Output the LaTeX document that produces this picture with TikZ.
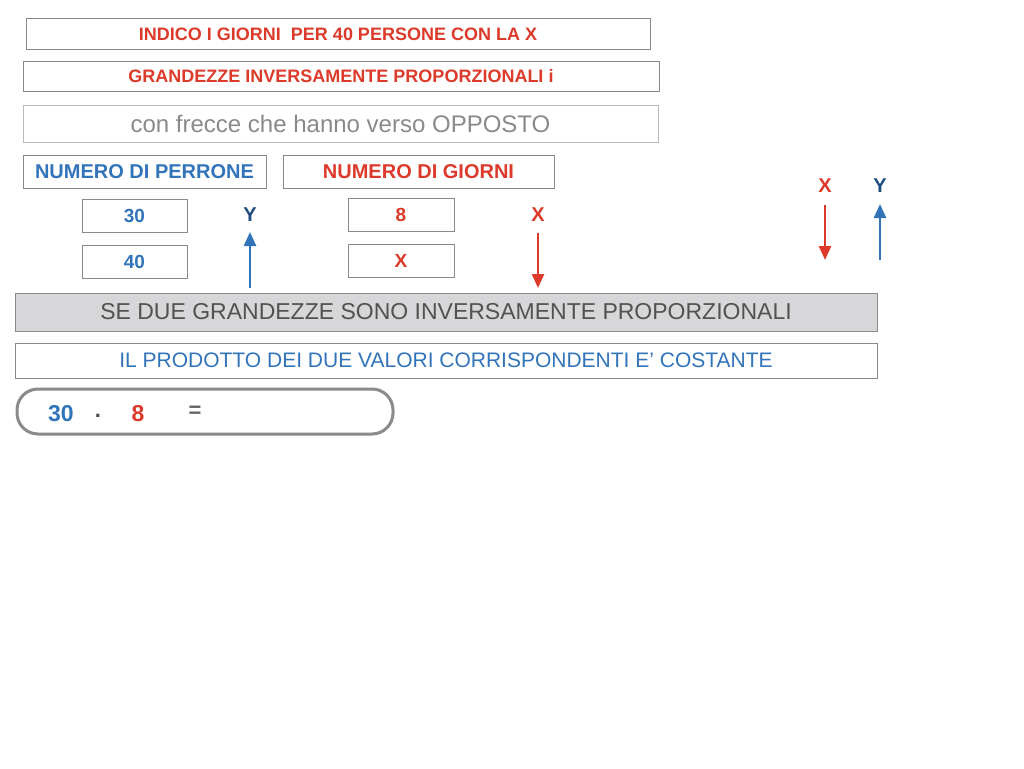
\documentclass[tikz,border=0pt]{standalone}
\usepackage{fontspec}
\setmainfont{Liberation Sans}
\usetikzlibrary{arrows.meta,positioning}
\definecolor{txtred}{HTML}{DC3A2A}
\definecolor{txtblue}{HTML}{3274BA}
\definecolor{darkblue}{HTML}{1F4C7E}
\definecolor{boxgray}{HTML}{8A8A8A}
\definecolor{fillgray}{HTML}{D7D6D8}

\begin{document}
\begin{tikzpicture}[x=1pt, y=-1pt]
    % Define block styles
    \tikzstyle{block} = [rectangle, draw=boxgray, line width=1pt, fill=white, inner sep=0pt]
    \tikzstyle{label} = [inner sep=0pt, font=\bfseries\fontsize{20}{20}\selectfont]
    \tikzstyle{line} = [line width=2.5pt, -{Triangle[length=14pt,width=12pt]}]

    \useasboundingbox (0,0) rectangle (1024,768);

    % Title boxes
    \node [block, minimum width=624pt, minimum height=31pt, text=txtred, font=\bfseries\fontsize{18}{18}\selectfont] (Title) at (338,34.5) {INDICO I GIORNI\ \ PER 40 PERSONE CON LA X};
    \node [block, minimum width=636pt, minimum height=30pt, text=txtred, font=\bfseries\fontsize{18}{18}\selectfont] (Kind) at (341,76.5) {GRANDEZZE INVERSAMENTE PROPORZIONALI i};
    \node [block, draw=boxgray!60, minimum width=635pt, minimum height=37pt, text=boxgray, font=\fontsize{24}{24}\selectfont] (Rule) at (340.5,123.5) {con frecce che hanno verso OPPOSTO};

    % Column headers
    \node [block, minimum width=243pt, minimum height=33pt, text=txtblue, font=\bfseries\fontsize{20}{20}\selectfont] (People) at (144.5,171.5) {NUMERO DI PERRONE};
    \node [block, minimum width=271pt, minimum height=33pt, text=txtred, font=\bfseries\fontsize{20}{20}\selectfont] (Days) at (418.5,171.5) {NUMERO DI GIORNI};

    % Values
    \node [block, minimum width=105pt, minimum height=33pt, text=txtblue, font=\bfseries\fontsize{19}{19}\selectfont] (P_30) at (134.5,216) {30};
    \node [block, minimum width=105pt, minimum height=33pt, text=txtblue, font=\bfseries\fontsize{19}{19}\selectfont] (P_40) at (134.5,262) {40};
    \node [block, minimum width=106pt, minimum height=33pt, text=txtred, font=\bfseries\fontsize{19}{19}\selectfont] (D_8) at (401,215) {8};
    \node [block, minimum width=106pt, minimum height=33pt, text=txtred, font=\bfseries\fontsize{19}{19}\selectfont] (D_X) at (401,261) {X};

    % Arrow labels
    \node [label, text=darkblue] (Y_left) at (250,214.5) {Y};
    \node [label, text=txtred] (X_left) at (538,214.5) {X};
    \node [label, text=txtred] (X_right) at (825,185.5) {X};
    \node [label, text=darkblue] (Y_right) at (880,185.5) {Y};

    \coordinate (Y_left_a) at (250,288);
    \coordinate (Y_left_b) at (250,232);
    \coordinate (X_left_a) at (538,233);
    \coordinate (X_left_b) at (538,288);
    \coordinate (X_right_a) at (825,205);
    \coordinate (X_right_b) at (825,260);
    \coordinate (Y_right_a) at (880,260);
    \coordinate (Y_right_b) at (880,204);

    % Arrows
    \path [line, draw=txtblue] (Y_left_a) -- (Y_left_b);
    \path [line, draw=txtred] (X_left_a) -- (X_left_b);
    \path [line, draw=txtred] (X_right_a) -- (X_right_b);
    \path [line, draw=txtblue] (Y_right_a) -- (Y_right_b);

    % Property boxes
    \node [block, fill=fillgray, minimum width=862pt, minimum height=38pt, text=black!68, font=\fontsize{23}{23}\selectfont] (Property) at (446,312) {SE DUE GRANDEZZE SONO INVERSAMENTE PROPORZIONALI};
    \node [block, minimum width=862pt, minimum height=35pt, text=txtblue, font=\fontsize{21}{21}\selectfont] (Product) at (446,360.5) {IL PRODOTTO DEI DUE VALORI CORRISPONDENTI E’ COSTANTE};

    % Product line
    \node [block, draw=boxgray, line width=3pt, rounded corners=21pt, minimum width=376pt, minimum height=45pt] (Calc) at (205,411.5) {};
    \node [label, text=txtblue, font=\bfseries\fontsize{23}{23}\selectfont] (C_30) at (61,413.5) {30};
    \node [label, text=black!70, font=\bfseries\fontsize{22}{22}\selectfont] (C_dot) at (98,416) {.};
    \node [label, text=txtred, font=\bfseries\fontsize{23}{23}\selectfont] (C_8) at (138,413.5) {8};
    \node [label, text=black!60, font=\bfseries\fontsize{22}{22}\selectfont] (C_eq) at (195,411.5) {=};

\end{tikzpicture}
\end{document}
